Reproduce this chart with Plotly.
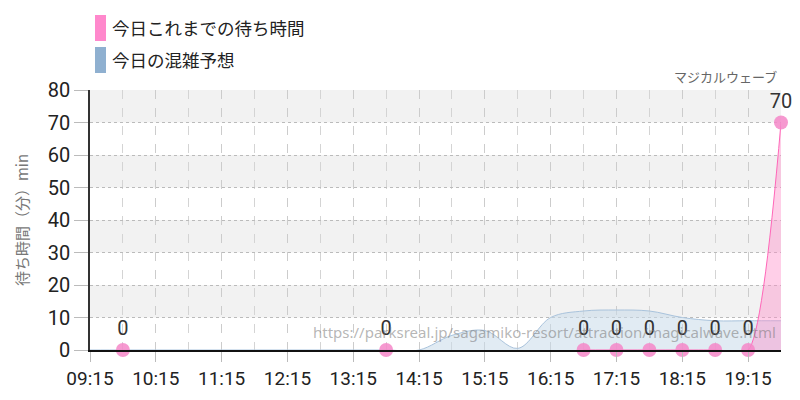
import plotly.graph_objects as go

day = "2024-01-01 "

# actual wait times so far (None = no connecting line)
actual_times = ["09:45", "10:15", "13:45", "14:15", "16:45", "17:15", "17:45",
                "18:15", "18:45", "19:15", "19:45"]
actual_waits = [0, None, 0, None, 0, 0, 0, 0, 0, 0, 70]

# today's forecast
forecast_times = ["09:15", "09:45", "10:15", "10:45", "11:15", "11:45", "12:15",
                  "12:45", "13:15", "13:45", "14:15", "14:45", "15:15", "15:45",
                  "16:15", "16:45", "17:15", "17:45", "18:15", "18:45", "19:15",
                  "19:45"]
forecast_waits = [0, 0, 0, 0, 0, 0, 0, 0, 0, 0, 0, 4.5, 6, 0.5, 10, 12, 12.3, 12,
                  10, 9, 9, 9]

hour_ticks = ["09:15", "10:15", "11:15", "12:15", "13:15", "14:15", "15:15",
              "16:15", "17:15", "18:15", "19:15"]
band_starts = [10, 30, 50, 70]

attraction = "マジカルウェーブ"
source_url = "https://parksreal.jp/sagamiko-resort/attraction/magicalwave.html"

num_font = "Roboto, sans-serif"
jp_font = "Noto Sans CJK JP, sans-serif"

fig = go.Figure()

fig.add_trace(go.Scatter(
    x=[day + t for t in forecast_times], y=forecast_waits,
    mode="lines", line=dict(color="#a9c3dc", width=1, shape="spline"),
    fill="tozeroy", fillcolor="rgba(200,218,234,0.55)",
    showlegend=False, hoverinfo="skip"))

x_act = [day + t for t in actual_times]
fig.add_trace(go.Scatter(
    x=x_act, y=actual_waits,
    mode="lines", line=dict(color="#ff66b8", width=1, shape="spline", smoothing=0.6),
    fill="tozeroy", fillcolor="rgba(255,140,200,0.42)",
    connectgaps=False, showlegend=False, hoverinfo="skip"))

pts_x = [x for x, v in zip(x_act, actual_waits) if v is not None]
pts_y = [v for v in actual_waits if v is not None]
fig.add_trace(go.Scatter(
    x=pts_x, y=pts_y, mode="markers+text",
    marker=dict(color="rgba(245,135,200,0.85)", size=14),
    text=[str(v) for v in pts_y], textposition="top center",
    textfont=dict(family=num_font, size=20, color="#333"),
    cliponaxis=False, showlegend=False, hoverinfo="skip"))

for b in band_starts:
    fig.add_shape(type="rect", xref="paper", yref="y", x0=0, x1=1, y0=b, y1=b + 10,
                  fillcolor="#f2f2f2", line_width=0, layer="below")

# legend swatches (page pixels -> paper coords, plot area is 90..781 x 90..350)
legend_items = [("今日これまでの待ち時間", "#ff88cc"), ("今日の混雑予想", "#8fb0d0")]
for i, (name, col) in enumerate(legend_items):
    y_top = 15 + 32 * i
    fig.add_shape(type="rect", xref="paper", yref="paper",
                  x0=(95 - 90) / 691, x1=(106 - 90) / 691,
                  y0=(350 - y_top - 26) / 260, y1=(350 - y_top) / 260,
                  fillcolor=col, line_width=0)
    fig.add_annotation(x=(110 - 90) / 691, y=(350 - y_top - 13) / 260,
                       xref="paper", yref="paper", text=name, showarrow=False,
                       xanchor="left", yanchor="middle",
                       font=dict(family=jp_font, size=17.5, color="#222"))

fig.add_annotation(x=0.997, y=1, xref="paper", yref="paper", text=attraction,
                   showarrow=False, xanchor="right", yanchor="bottom", yshift=2,
                   font=dict(family=jp_font, size=13, color="#666"))
fig.add_annotation(x=0.995, y=0.025, xref="paper", yref="paper", text=source_url,
                   showarrow=False, xanchor="right", yanchor="bottom",
                   font=dict(family="Noto Sans, sans-serif", size=15,
                             color="rgba(120,120,120,0.55)"))

# page body has an 8px margin, so the figure is 8px smaller and shifted
fig.update_layout(
    width=792, height=392,
    margin=dict(l=82, r=19, t=82, b=50),
    paper_bgcolor="white", plot_bgcolor="white",
    showlegend=False,
    xaxis=dict(type="date", range=[day + "09:15", day + "19:45"],
               tickvals=[day + t for t in hour_ticks], ticktext=hour_ticks,
               showgrid=True, gridcolor="#cccccc", griddash="dash", gridwidth=1,
               minor=dict(dtick=1800000, tick0=day + "09:15", showgrid=True,
                          gridcolor="#d4d4d4", griddash="dash"),
               ticks="outside", ticklen=10, tickcolor="#bbbbbb",
               showline=True, linecolor="#111", linewidth=1.5,
               tickfont=dict(family=num_font, size=19, color="#222"),
               zeroline=False, fixedrange=True, automargin=False),
    yaxis=dict(range=[0, 80], dtick=10,
               showgrid=True, gridcolor="#bbbbbb", griddash="dot",
               ticks="outside", ticklen=14, tickcolor="#bbbbbb",
               showline=True, linecolor="#333", linewidth=1.5,
               tickfont=dict(family=num_font, size=20, color="#222"),
               title=dict(text="待ち時間（分）min", standoff=16,
                          font=dict(family=jp_font, size=15, color="#777")),
               zeroline=False, fixedrange=True, automargin=False),
)

fig.write_html("out.html")
